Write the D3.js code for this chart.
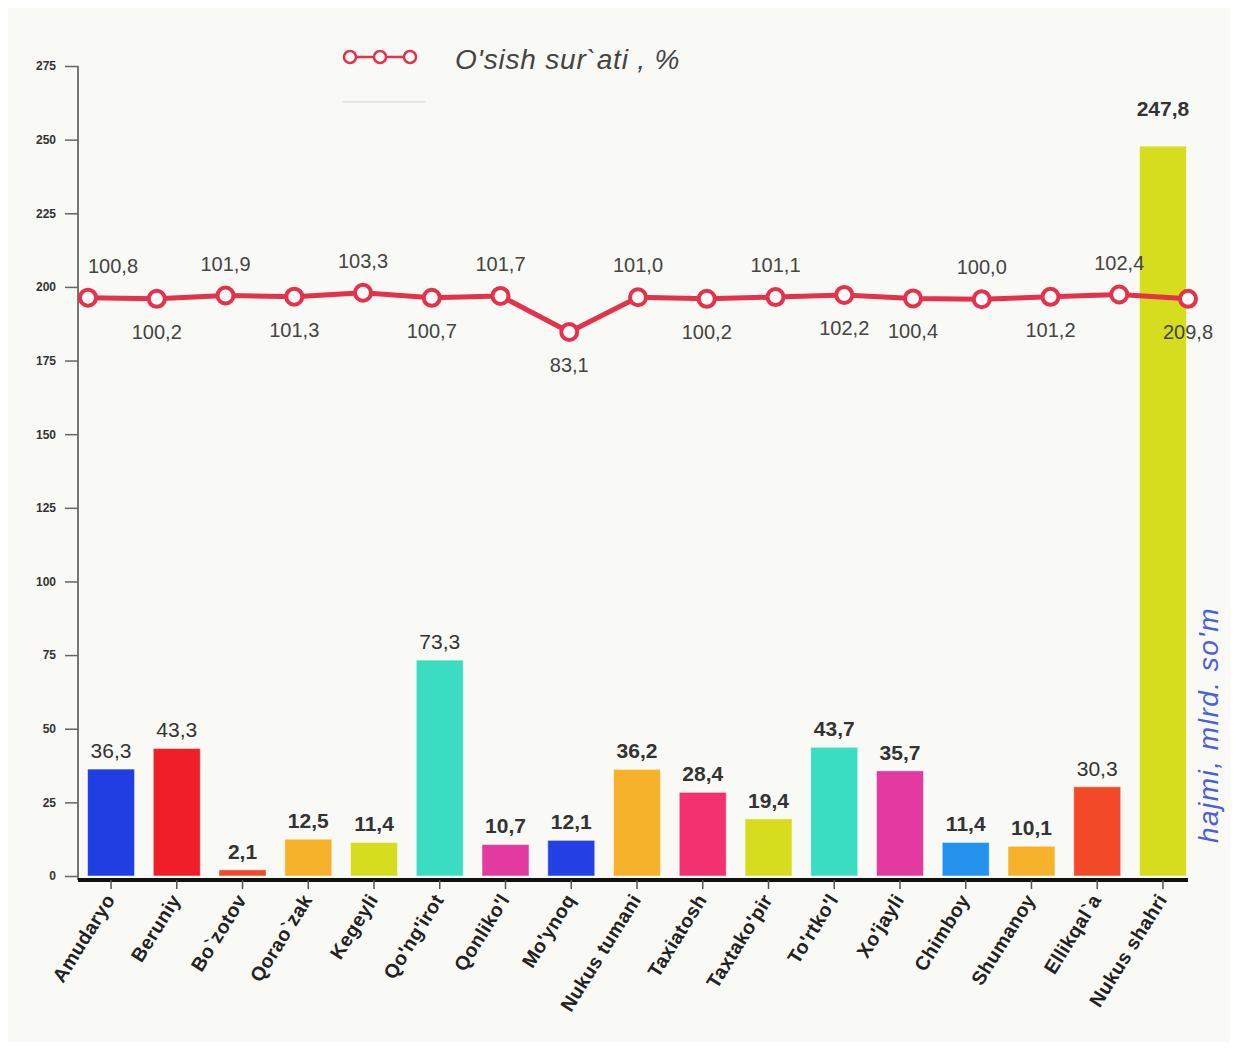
<!DOCTYPE html>
<html>
<head>
<meta charset="utf-8">
<script src="https://cdn.jsdelivr.net/npm/d3@7"></script>
<style>
  body { margin: 0; background: #fff; }
  .canvas { width: 1237px; height: 1049px; }
  text { font-family: "Liberation Sans", Arial, sans-serif; }
</style>
</head>
<body>
<div class="canvas"></div>
<script>
// data
const districts = ['Amudaryo', 'Beruniy', 'Bo`zotov', 'Qorao`zak', 'Kegeyli', "Qo'ng'irot", "Qonliko'l",
  "Mo'ynoq", 'Nukus tumani', 'Taxiatosh', "Taxtako'pir", "To'rtko'l", "Xo'jayli", 'Chimboy',
  'Shumanoy', 'Ellikqal`a', 'Nukus shahri']
const volume = [36.3, 43.3, 2.1, 12.5, 11.4, 73.3, 10.7, 12.1, 36.2, 28.4, 19.4, 43.7, 35.7, 11.4, 10.1, 30.3, 247.8]
const growth = [100.8, 100.2, 101.9, 101.3, 103.3, 100.7, 101.7, 83.1, 101.0, 100.2, 101.1, 102.2, 100.4, 100.0, 101.2, 102.4, 100.2]
const growthLabels = ['100,8', '100,2', '101,9', '101,3', '103,3', '100,7', '101,7', '83,1', '101,0', '100,2',
  '101,1', '102,2', '100,4', '100,0', '101,2', '102,4', '209,8']
const growthLabelSide = ['up', 'down', 'up', 'down', 'up', 'down', 'up', 'down', 'up', 'down',
  'up', 'down', 'down', 'up', 'down', 'up', 'down']
const yTicks = [0, 25, 50, 75, 100, 125, 150, 175, 200, 225, 250, 275]
const barColours = ['#1f3fe2', '#f01e28', '#ee4a2c', '#f6b22a', '#d6dc1e', '#3adcc2', '#e23a9e',
  '#2540e4', '#f6b22a', '#f23270', '#d6dc1e', '#3adcc2', '#e23a9e', '#2592ee', '#f6b22a', '#f24a28', '#d6dc1e']
const boldLabel = [false, false, true, true, true, false, true, true, true, true, true, true, true, true, true, false, true]

const svg = d3.select('.canvas')
  .append('svg')
    .attr('width', 1237)
    .attr('height', 1049)

svg.append('rect')
  .attr('x', 8).attr('y', 8)
  .attr('width', 1222).attr('height', 1034)
  .attr('fill', '#f9f9f5')

const plot = {left: 78, right: 1196, top: 66, bottom: 876}

const y = d3.scaleLinear()
  .domain([0, 275])
  .range([plot.bottom, plot.top])

const x = d3.scaleBand()
  .domain(districts)
  .range([plot.left, plot.right])
  .paddingInner(0.285)
  .paddingOuter(0.145)

// growth line lives on its own hidden scale
const xLine = d3.scalePoint()
  .domain(districts)
  .range([88, 1188])

const y2 = d3.scaleLinear()
  .domain([80, 105])
  .range([338, 289.5])

// bars
svg.selectAll('rect.bar')
  .data(volume)
  .enter()
  .append('rect')
    .attr('class', 'bar')
    .attr('x', (d, i) => x(districts[i]))
    .attr('y', d => y(d))
    .attr('width', x.bandwidth())
    .attr('height', d => y(0) - y(d))
    .attr('fill', (d, i) => barColours[i])
    .attr('stroke', '#ffffff')
    .attr('stroke-opacity', 0.5)
    .attr('stroke-width', 1)

svg.selectAll('text.barLabel')
  .data(volume)
  .enter()
  .append('text')
    .attr('class', 'barLabel')
    .attr('x', (d, i) => x(districts[i]) + x.bandwidth() / 2)
    .attr('y', d => y(d) - (d > 200 ? 30 : 11))
    .attr('text-anchor', 'middle')
    .attr('font-size', 21)
    .attr('font-weight', (d, i) => boldLabel[i] ? 'bold' : 'normal')
    .attr('fill', '#333')
    .text(d => d3.format('.1f')(d).replace('.', ','))

// y axis
const yAxisGroup = svg.append('g')
  .attr('transform', `translate(${plot.left},0)`)
const yAxis = d3.axisLeft(y)
  .tickValues(yTicks)
  .tickSize(13)
  .tickSizeOuter(0)
  .tickPadding(9)
yAxisGroup.call(yAxis)
yAxisGroup.select('.domain')
  .attr('stroke', '#777')
  .attr('stroke-width', 2)
  .attr('d', `M0,${plot.top}V${plot.bottom + 4}`)
yAxisGroup.selectAll('.tick line').attr('stroke', '#666').attr('stroke-width', 1.5)
yAxisGroup.selectAll('text')
  .attr('font-size', 12)
  .attr('font-weight', 'bold')
  .attr('fill', '#333')
  .attr('font-family', '"Liberation Sans", Arial, sans-serif')

// x axis
const xAxisGroup = svg.append('g')
  .attr('transform', `translate(0,${plot.bottom + 4})`)
const xAxis = d3.axisBottom(x)
  .tickSize(9)
  .tickSizeOuter(0)
xAxisGroup.call(xAxis)
xAxisGroup.select('.domain')
  .attr('stroke', '#111')
  .attr('stroke-width', 4)
  .attr('d', `M${plot.left},0H1188`)
xAxisGroup.selectAll('.tick line').attr('stroke', '#555').attr('stroke-width', 1.5)
xAxisGroup.selectAll('text')
  .attr('font-size', 19.5)
  .attr('font-weight', 'bold')
  .attr('letter-spacing', 0.4)
  .attr('fill', '#222')
  .attr('font-family', '"Liberation Sans", Arial, sans-serif')
  .attr('text-anchor', 'end')
  .attr('x', 0)
  .attr('y', 0)
  .attr('dy', '0.35em')
  .attr('transform', 'translate(-1,16) rotate(-58)')

// growth line
const line = d3.line()
  .x((d, i) => xLine(districts[i]))
  .y(d => y2(d))

svg.append('path')
  .datum(growth)
  .attr('d', line)
  .attr('fill', 'none')
  .attr('stroke', '#e4324c')
  .attr('stroke-width', 5)
  .attr('stroke-linejoin', 'round')

svg.selectAll('circle.pt')
  .data(growth)
  .enter()
  .append('circle')
    .attr('class', 'pt')
    .attr('cx', (d, i) => xLine(districts[i]))
    .attr('cy', d => y2(d))
    .attr('r', 8)
    .attr('fill', '#fff')
    .attr('stroke', '#e4324c')
    .attr('stroke-width', 4)

svg.selectAll('text.ptLabel')
  .data(growth)
  .enter()
  .append('text')
    .attr('class', 'ptLabel')
    .attr('x', (d, i) => Math.max(xLine(districts[i]), 113))
    .attr('y', (d, i) => y2(d) + (growthLabelSide[i] === 'up' ? -25 : 40))
    .attr('text-anchor', 'middle')
    .attr('font-size', 20)
    .attr('fill', '#444')
    .text((d, i) => growthLabels[i])

// legend
const legend = svg.append('g')
legend.append('line')
  .attr('x1', 344).attr('x2', 416)
  .attr('y1', 57).attr('y2', 57)
  .attr('stroke', '#e4324c').attr('stroke-width', 2.5)
legend.selectAll('circle')
  .data([350, 380, 410])
  .enter()
  .append('circle')
    .attr('cx', d => d).attr('cy', 57).attr('r', 6)
    .attr('fill', '#fff').attr('stroke', '#e4324c').attr('stroke-width', 2.5)
legend.append('line')
  .attr('x1', 342).attr('x2', 426)
  .attr('y1', 102).attr('y2', 102)
  .attr('stroke', '#e6e6e6').attr('stroke-width', 2)
legend.append('text')
  .attr('x', 455).attr('y', 69)
  .attr('font-size', 28)
  .attr('font-style', 'italic')
  .attr('letter-spacing', 0.8)
  .attr('fill', '#444')
  .text("O'sish sur`ati , %")

// right axis title
svg.append('text')
  .attr('transform', 'translate(1218,725) rotate(-90)')
  .attr('text-anchor', 'middle')
  .attr('font-size', 28)
  .attr('font-style', 'italic')
  .attr('letter-spacing', 1.5)
  .attr('fill', '#4a5ee2')
  .text("hajmi, mlrd. so'm")
</script>
</body>
</html>
